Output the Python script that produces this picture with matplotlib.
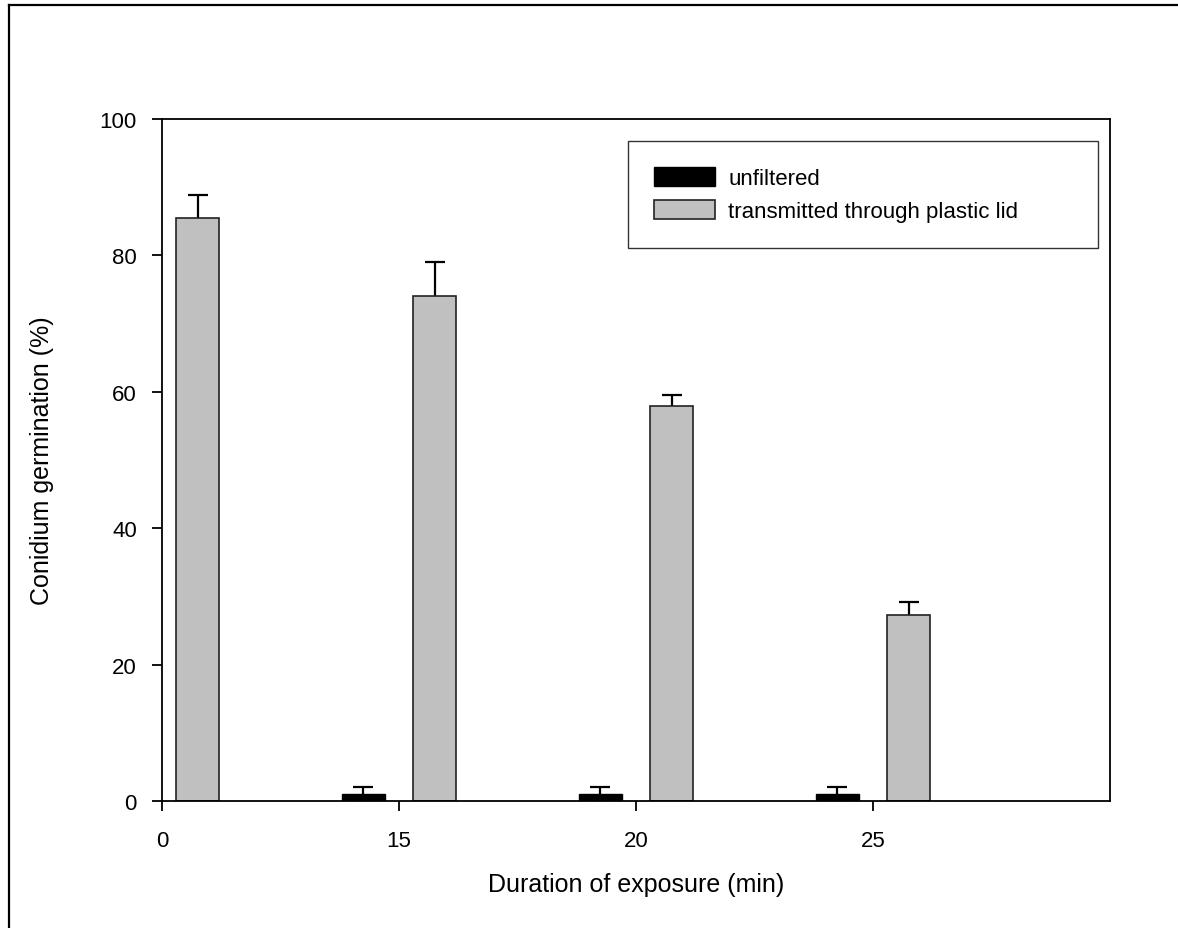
import numpy as np
import matplotlib
matplotlib.use("Agg")
import matplotlib.pyplot as plt
from matplotlib.lines import Line2D

# data
durations = ['0', '15', '20', '25']
unfiltered = [np.nan, 1.1, 1.1, 1.1]
unfiltered_err = [np.nan, 1.0, 1.0, 1.0]
plastic = [85.5, 74.0, 57.9, 27.3]
plastic_err = [3.4, 5.1, 1.7, 1.9]

plt.rcParams['font.family'] = ['Liberation Sans', 'DejaVu Sans']

fig = plt.figure(figsize=(11.78, 9.29), dpi=100)
ax = fig.add_axes([0.1375, 0.1367, 0.8048, 0.7341])

x = np.arange(len(durations))
w = 0.183

# error bars sit behind the bars so only the upper half shows
ax.errorbar(x - 0.15, unfiltered, yerr=unfiltered_err, fmt='none',
            ecolor='black', elinewidth=1.6, capsize=7.5, capthick=1.6, zorder=1)
ax.bar(x - 0.15, unfiltered, w, color='black', edgecolor='black', linewidth=1.0,
       label='unfiltered', zorder=2)
ax.errorbar(x + 0.15, plastic, yerr=plastic_err, fmt='none',
            ecolor='black', elinewidth=1.6, capsize=7.5, capthick=1.6, zorder=1)
ax.bar(x + 0.15, plastic, w, color='#c0c0c0', edgecolor='#222222', linewidth=1.2,
       label='transmitted through plastic lid', zorder=2)

ax.set_xlim(0, 4)
ax.set_ylim(0, 100)
ax.set_xticks(x)
ax.set_xticklabels(durations)
ax.set_yticks([0, 20, 40, 60, 80, 100])

for s in ax.spines.values():
    s.set_linewidth(1.3)
    s.set_zorder(3)
ax.tick_params(axis='both', direction='out', length=7, width=1.3, labelsize=16)
ax.tick_params(axis='x', pad=14)
ax.tick_params(axis='y', pad=11)

ax.set_xlabel('Duration of exposure (min)', fontsize=18)
ax.set_ylabel('Conidium germination (%)', fontsize=18)
ax.xaxis.set_label_coords(0.5, -0.122)
ax.xaxis.label.set_va('center')
ax.yaxis.set_label_coords(-0.127, 0.5)
ax.yaxis.label.set_va('center')

leg = ax.legend(loc='upper left', bbox_to_anchor=(0.4916, 0.9677, 0.4954, 0.0),
                mode='expand', fontsize=16, frameon=True, fancybox=False,
                edgecolor='black', handlelength=2.75, handleheight=0.95,
                handletextpad=0.6, labelspacing=0.5, borderpad=1.15,
                borderaxespad=0)
leg.get_frame().set_linewidth(1.0)

# page border lines (top and left)
fig.add_artist(Line2D([9 / 1178, 1.0], [1 - 6 / 929, 1 - 6 / 929],
                      color='black', linewidth=1.6))
fig.add_artist(Line2D([9 / 1178, 9 / 1178], [0.0, 1 - 6 / 929],
                      color='black', linewidth=1.6))

fig.savefig('out.png', dpi=100)
